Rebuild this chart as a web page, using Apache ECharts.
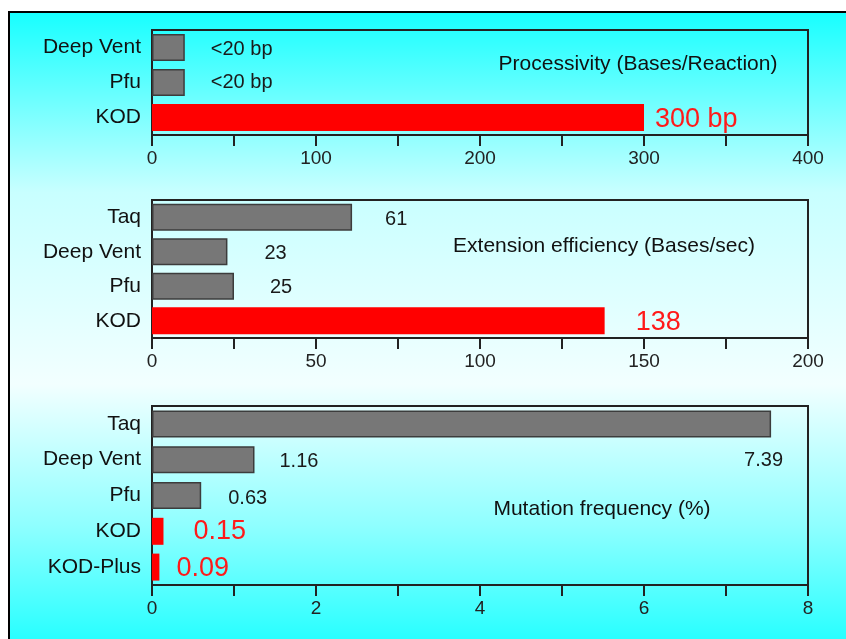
<!DOCTYPE html>
<html>
<head>
<meta charset="utf-8">
<script src="https://cdn.jsdelivr.net/npm/echarts@6/dist/echarts.min.js"></script>
<style>
  html, body { margin: 0; padding: 0; background: #fff; width: 846px; height: 639px; overflow: hidden; }
  #bg { position: absolute; left: 10px; top: 13px; width: 850px; height: 640px;
    background: linear-gradient(to bottom, #18FFFF 0%, #C8FFFF 28%, #F2FFFF 58%, #8FFFFF 80%, #1CFFFF 100%); }
  #lineTop { position: absolute; left: 8px; top: 11px; width: 850px; height: 2px; background: #000; }
  #lineLeft { position: absolute; left: 8px; top: 11px; width: 2px; height: 640px; background: #000; }
  #chart { position: absolute; left: 0; top: 0; width: 846px; height: 639px; }
</style>
</head>
<body>
<div id="bg"></div>
<div id="lineTop"></div>
<div id="lineLeft"></div>
<div id="chart"></div>
<script>
// ---- Data ----
// Panel 1: Processivity (Bases/Reaction)
var procCategories = ['Deep Vent', 'Pfu', 'KOD'];
var procValues = [20, 20, 300];
var procLabels = ['<20 bp', '<20 bp', '300 bp'];
var procTitle = 'Processivity (Bases/Reaction)';
var procAxis = { min: 0, max: 400, interval: 50, labelStep: 100 };

// Panel 2: Extension efficiency (Bases/sec)
var extCategories = ['Taq', 'Deep Vent', 'Pfu', 'KOD'];
var extValues = [61, 23, 25, 138];
var extLabels = ['61', '23', '25', '138'];
var extTitle = 'Extension efficiency (Bases/sec)';
var extAxis = { min: 0, max: 200, interval: 25, labelStep: 50 };

// Panel 3: Mutation frequency (%)
var mutCategories = ['Taq', 'Deep Vent', 'Pfu', 'KOD', 'KOD-Plus'];
var mutValues = [7.55, 1.25, 0.60, 0.14, 0.09];   // bar lengths as drawn
var mutLabels = ['7.39', '1.16', '0.63', '0.15', '0.09']; // printed values
var mutTitle = 'Mutation frequency (%)';
var mutAxis = { min: 0, max: 8, interval: 1, labelStep: 2 };

// which bars are highlighted (KOD products)
var highlight = ['KOD', 'KOD-Plus'];

// ---- Styles ----
var FONT = 'Liberation Sans, Arial, sans-serif';
var GRAY = '#777777', RED = '#FF0000';
var grids = [
  { left: 152, right: 38, top: 30, height: 105 },
  { left: 152, right: 38, top: 200, height: 138 },
  { left: 152, right: 38, top: 406, height: 179 }
];
// label placement tweaks per panel (offsets in px)
var labelPlacement = [
  [{ d: 26, o: [0, 2] }, { d: 26, o: [0, 0] }, { d: 11, o: [0, 2] }],
  [{ d: 33, o: [0, 2] }, { d: 37, o: [0, 2] }, { d: 36, o: [0, 1] }, { d: 31, o: [0, 2] }],
  [{ d: 0, o: [-27, 37] }, { d: 25, o: [0, 2] }, { d: 27, o: [0, 3] }, { d: 30, o: [0, 0] }, { d: 17, o: [0, 1] }]
];

function buildData(cats, vals, labels, placement) {
  return vals.map(function (v, i) {
    var isRed = highlight.indexOf(cats[i]) >= 0;
    return {
      value: v,
      itemStyle: isRed
        ? { color: RED, borderWidth: 0 }
        : { color: GRAY, borderColor: '#3c3c3c', borderWidth: 1.5 },
      label: {
        show: true,
        position: 'right',
        distance: placement[i].d,
        offset: placement[i].o,
        formatter: labels[i],
        fontFamily: FONT,
        fontSize: isRed ? 27 : 20,
        color: isRed ? '#FF1A1A' : '#1a1a1a'
      }
    };
  });
}

function xAxisFor(idx, ax) {
  return {
    type: 'value', gridIndex: idx, min: ax.min, max: ax.max, interval: ax.interval,
    splitLine: { show: false },
    axisLine: { show: true, lineStyle: { color: '#222', width: 2 } },
    axisTick: { show: true, inside: false, length: 11, lineStyle: { color: '#222', width: 2 } },
    axisLabel: {
      margin: 14, fontFamily: FONT, fontSize: 19, color: '#222',
      formatter: function (v) { return (Math.round(v * 1000) % Math.round(ax.labelStep * 1000) === 0) ? String(v) : ''; }
    }
  };
}
function yAxisFor(idx, cats) {
  return {
    type: 'category', gridIndex: idx, data: cats, inverse: true,
    axisLine: { show: true, lineStyle: { color: '#222', width: 2 } },
    axisTick: { show: false },
    axisLabel: { margin: 11, fontFamily: FONT, fontSize: 21, color: '#111' }
  };
}

var titleStyle = { fontFamily: FONT, fontSize: 21, fontWeight: 'normal', color: '#111' };
var chart = echarts.init(document.getElementById('chart'), null, { renderer: 'canvas' });
var option = {
  backgroundColor: 'transparent',
  animation: false,
  title: [
    { text: procTitle, left: 633, top: 49, textAlign: 'center', textStyle: titleStyle },
    { text: extTitle, left: 599, top: 231, textAlign: 'center', textStyle: titleStyle },
    { text: mutTitle, left: 597, top: 494, textAlign: 'center', textStyle: titleStyle }
  ],
  grid: grids.map(function (g) {
    return Object.assign({ show: true, borderColor: '#222', borderWidth: 2, backgroundColor: 'transparent', containLabel: false }, g);
  }),
  xAxis: [xAxisFor(0, procAxis), xAxisFor(1, extAxis), xAxisFor(2, mutAxis)],
  yAxis: [yAxisFor(0, procCategories), yAxisFor(1, extCategories), yAxisFor(2, mutCategories)],
  series: [
    { type: 'bar', xAxisIndex: 0, yAxisIndex: 0, barWidth: 27, data: buildData(procCategories, procValues, procLabels, labelPlacement[0]) },
    { type: 'bar', xAxisIndex: 1, yAxisIndex: 1, barWidth: 27, data: buildData(extCategories, extValues, extLabels, labelPlacement[1]) },
    { type: 'bar', xAxisIndex: 2, yAxisIndex: 2, barWidth: 27, data: buildData(mutCategories, mutValues, mutLabels, labelPlacement[2]) }
  ]
};
chart.setOption(option);
</script>
</body>
</html>
